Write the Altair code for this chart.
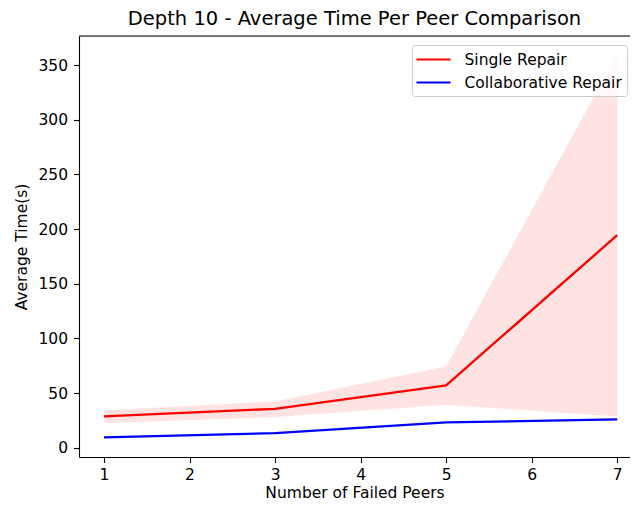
import altair as alt
import pandas as pd

x_vals = [1, 3, 5, 7]
single_mean = [28.6, 35.6, 57.0, 194.5]
single_lo = [22.6, 28.0, 39.3, 28.6]
single_hi = [34.1, 42.3, 74.3, 360.0]
collab_mean = [9.4, 13.4, 23.1, 25.9]
series_names = ["Single Repair", "Collaborative Repair"]
series_colors = ["red", "blue"]
x_ticks = [1, 2, 3, 4, 5, 6, 7]
y_ticks = [0, 50, 100, 150, 200, 250, 300, 350]

lines = pd.DataFrame({
    "x": x_vals * 2,
    "y": single_mean + collab_mean,
    "series": [series_names[0]] * 4 + [series_names[1]] * 4,
})
band = pd.DataFrame({"x": x_vals, "lo": single_lo, "hi": single_hi})

W, H = 551, 421
FONT = "DejaVu Sans"
FS = 15.5

xscale = alt.Scale(domain=[0.708, 7.149], nice=False, zero=False)
yscale = alt.Scale(domain=[-8.5, 376.7], nice=False, zero=False)

xaxis = alt.Axis(values=x_ticks, format="d", grid=False, title="Number of Failed Peers",
                 labelFont=FONT, labelFontSize=FS, labelColor="black", titleFont=FONT,
                 titleFontSize=FS, titleFontWeight="normal", titleColor="black",
                 tickColor="black", tickSize=5.5, tickWidth=1.1, domainColor="black",
                 domainWidth=1.1, labelPadding=4.5, titlePadding=2.5, labelFlush=False)
yaxis = alt.Axis(values=y_ticks, grid=False, title="Average Time(s)",
                 labelFont=FONT, labelFontSize=FS, labelColor="black", titleFont=FONT,
                 titleFontSize=FS, titleFontWeight="normal", titleColor="black",
                 tickColor="black", tickSize=5.5, tickWidth=1.1, domainColor="black",
                 domainWidth=1.1, labelPadding=6, titlePadding=8.5, labelFlush=False)

area = alt.Chart(band).mark_area(color="red", opacity=0.11, stroke="red",
                                 strokeOpacity=0.08, strokeWidth=1).encode(
    x=alt.X("x:Q", scale=xscale, axis=xaxis),
    y=alt.Y("lo:Q", scale=yscale, axis=yaxis),
    y2="hi:Q",
)

line = alt.Chart(lines).mark_line(strokeWidth=2.3).encode(
    x=alt.X("x:Q", scale=xscale, axis=xaxis),
    y=alt.Y("y:Q", scale=yscale, axis=yaxis),
    color=alt.Color("series:N", sort=series_names,
                    scale=alt.Scale(domain=series_names, range=series_colors),
                    legend=alt.Legend(title=None, orient="none", legendX=333, legendY=9,
                                      symbolType="M-2,0H2", symbolSize=289,
                                      symbolOffset=7, symbolStrokeWidth=2.2,
                                      labelFont=FONT, labelFontSize=FS, labelLimit=400,
                                      labelColor="black", labelOffset=21, padding=4.5,
                                      rowPadding=4, strokeColor="#cccccc",
                                      fillColor="rgba(255,255,255,0.8)", cornerRadius=3)),
)

top_rule = alt.Chart(alt.Data(values=[{"a": 1}])).mark_rule(color="black", strokeWidth=1.1).encode(
    x=alt.value(0), x2=alt.value(W), y=alt.value(0)
)

chart = alt.layer(area, line, top_rule).properties(
    width=W, height=H,
    title=alt.Title("Depth 10 - Average Time Per Peer Comparison", font=FONT, fontSize=19.5,
                    fontWeight="normal", color="black", offset=5.5),
    autosize=alt.AutoSizeParams(type="none"),
    padding={"left": 71, "top": 28, "right": 0, "bottom": 44},
).configure_view(stroke=None).configure(background="white")

chart.save("out.html", embed_options={"renderer": "svg", "actions": False})
